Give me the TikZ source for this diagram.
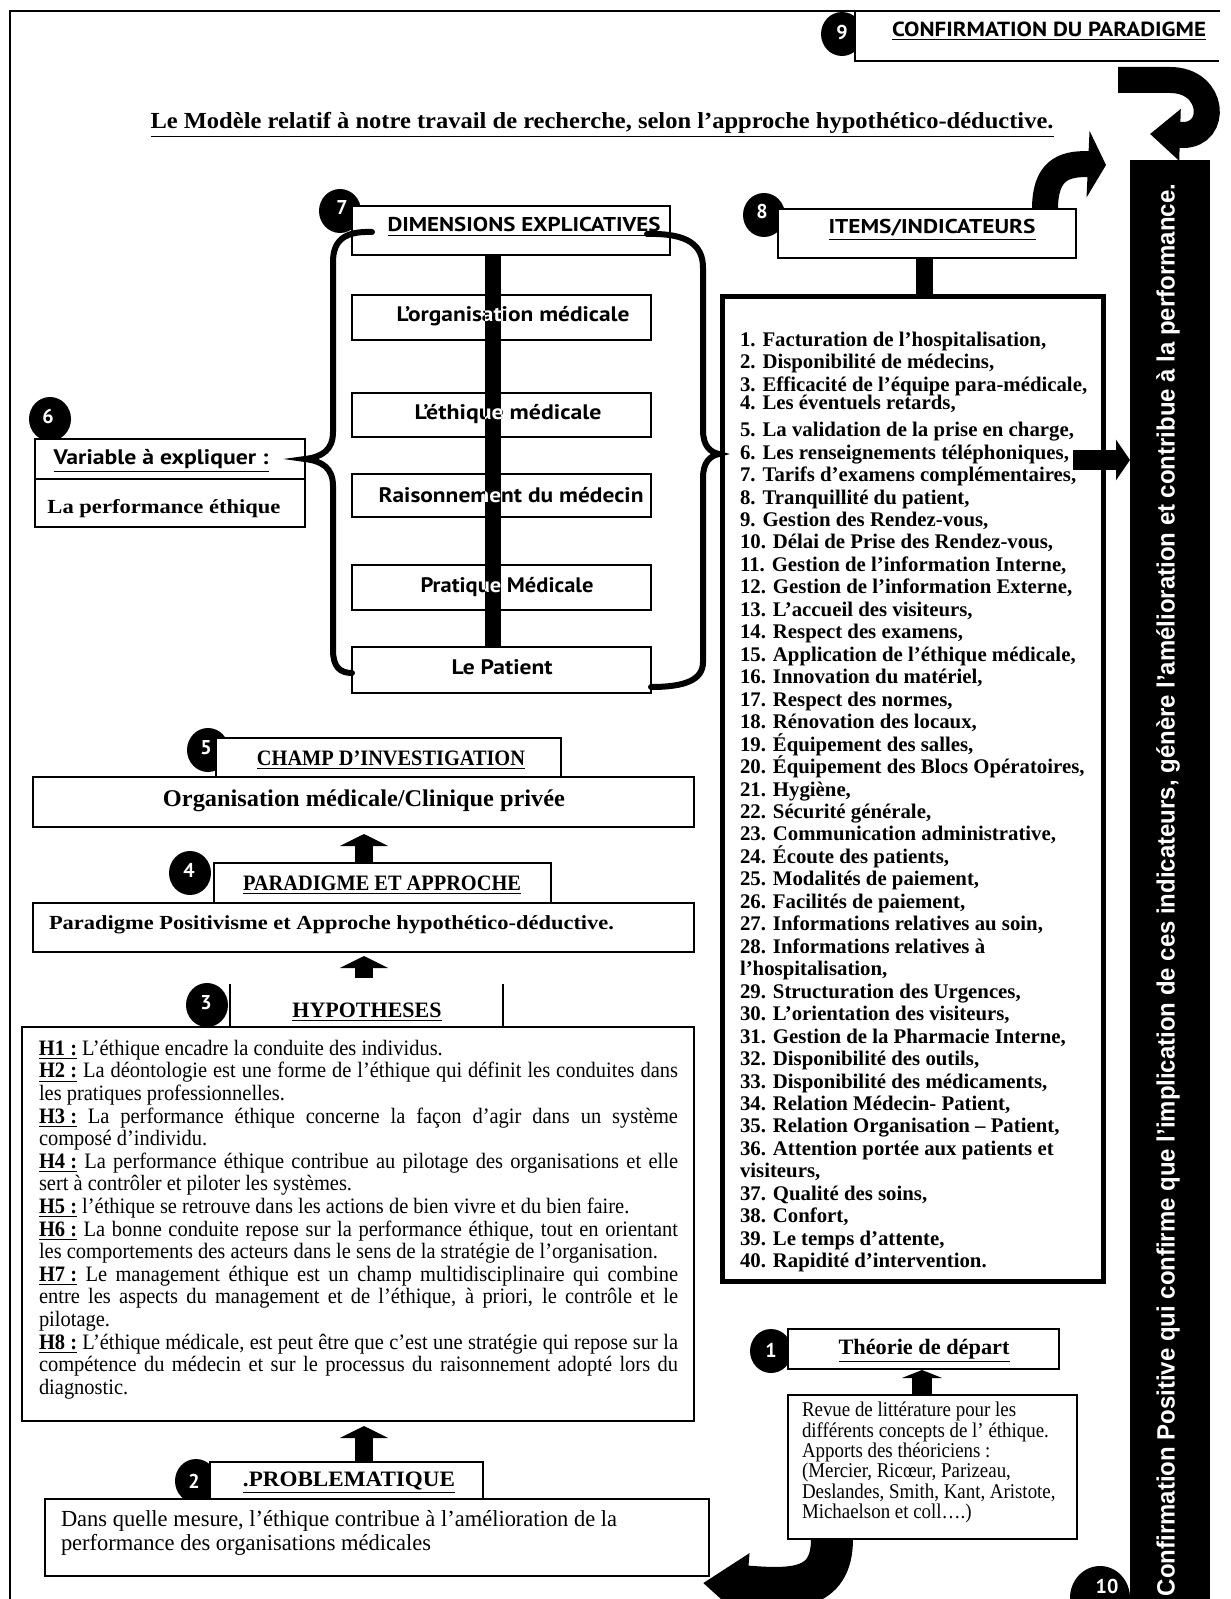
\documentclass[tikz,border=0pt]{standalone}
\usepackage{fontspec}
\usepackage{graphicx}
\setmainfont{Liberation Serif}
\newfontfamily\sansf{PT Sans}
\newfontfamily\arialf{Liberation Sans}
\newfontfamily\condserif[FakeStretch=0.9]{Liberation Serif}
\newfontfamily\hypf[FakeStretch=0.93]{Liberation Serif}
\usetikzlibrary{arrows.meta,shapes.geometric}
\newcommand\fitw[2]{\resizebox{#1pt}{\height}{#2}}
\newcommand\SBf[1]{\sansf\bfseries\fontsize{#1}{#1}\selectfont}
\newcommand\RBf[1]{\rmfamily\bfseries\fontsize{#1}{#1}\selectfont}
\newcommand\hl[1]{\underline{\textbf{#1}}}
\newcommand\jl[1]{\makebox[319.5pt][s]{#1}}
\newcommand\normsp{\spaceskip=0pt\xspaceskip=0pt\lineskiplimit=-100pt\relax}
\begin{document}
\begin{tikzpicture}[x=0.5pt,y=-0.5pt,
  box/.style={draw, line width=0.7pt, fill=white, inner sep=0pt, outer sep=0pt, rectangle},
  nobox/.style={inner sep=0pt, outer sep=0pt, rectangle},
  boxline/.style={line width=0.7pt},
  numc/.style={ellipse, fill=black, inner sep=0pt, minimum width=21pt, minimum height=22pt},
  numt/.style={text=white, font=\SBf{10}, inner sep=0pt},
  lbl/.style={inner sep=0pt, outer sep=0pt},
  blockarrow/.style={line width=9pt, -{Triangle[length=6pt,width=24pt]}},
  bracestyle/.style={line width=3pt, line cap=round}]
\useasboundingbox (0,0) rectangle (1230,1599);
\clip (0,0) rectangle (1230,1599);
% frame
\coordinate (f1) at (10,1599); \coordinate (f2) at (10,11); \coordinate (f3) at (1220,11);
\draw[line width=0.8pt] (f1) -- (f2) -- (f3);
% circles
\node[numc] (c9) at (842,34) {};
\node[numc] (c8) at (764,215) {};
\node[numc] (c7) at (340,211) {};
\node[numc] (c6) at (50,419) {};
\node[numc] (c5) at (208,750) {};
\node[numc] (c4) at (190,873) {};
\node[numc] (c3) at (207,1005) {};
\node[numc] (c2) at (196,1481) {};
\node[numc] (c1) at (771,1351) {};
\node[numc, minimum width=30pt, minimum height=32pt] (c10) at (1100,1598) {};
% boxes
\node[nobox, fill=white, minimum width=182pt, minimum height=25pt] (b9) at (1037,36) {};
\draw[boxline] (b9.north east) -- (b9.north west) -- (b9.south west) -- (b9.south east);
\node[box, minimum width=159pt, minimum height=24.5pt] (b7) at (511,230.5) {};
\node[box, minimum width=149pt, minimum height=24.5pt] (b8) at (927,233.5) {};
\node[box, minimum width=149.5pt, minimum height=22.5pt] (org) at (501.5,317.5) {};
\node[box, minimum width=149.5pt, minimum height=22pt] (eth) at (501.5,415) {};
\node[box, minimum width=149.5pt, minimum height=21.5pt] (rai) at (501.5,495.5) {};
\node[box, minimum width=149.5pt, minimum height=22.5pt] (pra) at (501.5,587.5) {};
\node[box, minimum width=149.5pt, minimum height=23pt] (pat) at (501.5,670) {};
\node[box, minimum width=135pt, minimum height=44pt] (var) at (170,483) {};
\coordinate (vd) at (0,479);
\draw[boxline] (var.west |- vd) -- (var.east |- vd);
\node[box, minimum width=172.5pt, minimum height=19.5pt] (b5) at (388.5,757.5) {};
\node[box, minimum width=330.5pt, minimum height=25pt] (big5) at (363.5,802) {};
\node[box, minimum width=168.5pt, minimum height=20pt] (b4) at (382.5,883) {};
\node[box, minimum width=330.5pt, minimum height=24.5pt] (big4) at (363.5,927.5) {};
\node[nobox, minimum width=136.5pt, minimum height=21.5pt] (b3) at (366.5,1005.5) {};
\draw[boxline] (b3.north west) -- (b3.south west);
\draw[boxline] (b3.north east) -- (b3.south east);
\node[box, minimum width=336pt, minimum height=197pt] (hyp) at (358,1224) {};
\node[box, minimum width=136.5pt, minimum height=18.5pt] (b2) at (346.5,1480.5) {};
\node[box, minimum width=332pt, minimum height=38.5pt] (prob) at (377,1537.5) {};
\node[box, minimum width=135.5pt, minimum height=20pt] (b1) at (923.5,1349) {};
\node[box, minimum width=144.5pt, minimum height=72pt] (theory) at (932.5,1467) {};
\node[box, line width=2.5pt, minimum width=190.5pt, minimum height=492pt] (items) at (912.5,789) {};
% numbers
\node[numt] (n9) at (842,33) {9};
\node[numt] (n8) at (762,212) {8};
\node[numt] (n7) at (342,208) {7};
\node[numt] (n6) at (48,416) {6};
\node[numt] (n5) at (206,748) {5};
\node[numt] (n4) at (189,870) {4};
\node[numt] (n3) at (206,1003) {3};
\node[numt] (n2) at (194,1481) {2};
\node[numt] (n1) at (771,1350) {1};
% texts
\node[lbl, font=\SBf{10.2}] (t9) at (1049,31) {\fitw{157}{\underline{CONFIRMATION DU PARADIGME}}};
\node[lbl, font=\RBf{11.5}] (title) at (602,125) {\fitw{451.5}{\underline{Le Modèle relatif à notre travail de recherche, selon l’approche hypothético-déductive.}}};
\node[lbl, font=\SBf{10}] (t7) at (524,227) {\fitw{136.5}{\underline{DIMENSIONS EXPLICATIVES}}};
\node[lbl, font=\SBf{10}] (t8) at (932,230) {\fitw{103.5}{\underline{ITEMS/INDICATEURS}}};
\node[lbl, font=\SBf{10.5}] (torg) at (513,316) {\fitw{116.5}{L’organisation médicale}};
\node[lbl, font=\SBf{10.5}] (teth) at (508,414) {\fitw{93.5}{L’éthique médicale}};
\node[lbl, font=\SBf{10.5}] (trai) at (511,495) {\fitw{132.5}{Raisonnement du médecin}};
\node[lbl, font=\SBf{10.5}] (tpra) at (507,587) {\fitw{86.5}{Pratique Médicale}};
\node[lbl, font=\SBf{10.5}] (tpat) at (502,667) {\fitw{50.5}{Le Patient}};
\node[lbl, font=\SBf{10.5}] (tvar) at (161,461) {\fitw{107.5}{\underline{Variable à expliquer :}}};
\node[lbl, font=\RBf{10}] (tperf) at (164,509) {\fitw{116.5}{La performance éthique}};
\node[lbl, font=\RBf{11}] (t5) at (391,760) {\fitw{134}{\underline{CHAMP D’INVESTIGATION}}};
\node[lbl, font=\RBf{12}] (tbig5) at (364,801) {\fitw{201}{Organisation médicale/Clinique privée}};
\node[lbl, font=\RBf{11}] (t4) at (382,885) {\fitw{139}{\underline{PARADIGME ET APPROCHE}}};
\node[lbl, font=\RBf{10}, anchor=west] (tbig4) at (49,925) {\fitw{282.5}{Paradigme Positivisme et Approche hypothético-déductive.}};
\node[lbl, font=\RBf{11}] (t3) at (367,1012) {\fitw{74.5}{\underline{HYPOTHESES}}};
\node[lbl, font=\RBf{11}] (t2) at (349,1483) {\fitw{106}{\underline{.PROBLEMATIQUE}}};
\node[lbl, font=\RBf{11}] (t1) at (924,1351) {\fitw{85.5}{\underline{Théorie de départ}}};
\node[lbl, font=\condserif\fontsize{11.5}{11.5}\selectfont, anchor=west] (tprob1) at (61,1521) {\fitw{278}{Dans quelle mesure, l’éthique contribue à l’amélioration de la}};
\node[lbl, font=\condserif\fontsize{11.5}{11.5}\selectfont, anchor=west] (tprob2) at (61,1545) {\fitw{185}{performance des organisations médicales}};
% items
\node[lbl, anchor=north west, align=left, font=\rmfamily\bfseries\fontsize{10.4}{11.23}\selectfont] (itemtext) at (740,332) {\normsp
1. Facturation de l'hospitalisation,\\
2. Disponibilité de médecins,\\
3. Efficacité de l'équipe para-médicale,\\[-2pt]
4. Les éventuels retards,\\[2.2pt]
5. La validation de la prise en charge,\\
6. Les renseignements téléphoniques,\\
7. Tarifs d'examens complémentaires,\\
8. Tranquillité du patient,\\
9. Gestion des Rendez-vous,\\
10. Délai de Prise des Rendez-vous,\\
11. Gestion de l'information Interne,\\
12. Gestion de l'information Externe,\\
13. L’accueil des visiteurs,\\
14. Respect des examens,\\
15. Application de l'éthique médicale,\\
16. Innovation du matériel,\\
17. Respect des normes,\\
18. Rénovation des locaux,\\
19. Équipement des salles,\\
20. Équipement des Blocs Opératoires,\\
21. Hygiène,\\
22. Sécurité générale,\\
23. Communication administrative,\\
24. Écoute des patients,\\
25. Modalités de paiement,\\
26. Facilités de paiement,\\
27. Informations relatives au soin,\\
28. Informations relatives à\\
l’hospitalisation,\\
29. Structuration des Urgences,\\
30. L'orientation des visiteurs,\\
31. Gestion de la Pharmacie Interne,\\
32. Disponibilité des outils,\\
33. Disponibilité des médicaments,\\
34. Relation Médecin- Patient,\\
35. Relation Organisation – Patient,\\
36. Attention portée aux patients et\\
visiteurs,\\
37. Qualité des soins,\\
38. Confort,\\
39. Le temps d'attente,\\
40. Rapidité d'intervention.};
% hypotheses
\node[lbl, anchor=north west, align=left, text width=319.5pt, font=\hypf\fontsize{11}{11.3}\selectfont] (hyptext) at (39,1040) {\normsp
\hl{H1 :} L’éthique encadre la conduite des individus.\\
\jl{\hl{H2 :} La déontologie est une forme de l’éthique qui définit les conduites dans}\\
les pratiques professionnelles.\\
\jl{\hl{H3 :} La performance éthique concerne la façon d’agir dans un système}\\
composé d’individu.\\
\jl{\hl{H4 :} La performance éthique contribue au pilotage des organisations et elle}\\
sert à contrôler et piloter les systèmes.\\
\hl{H5 :} l’éthique se retrouve dans les actions de bien vivre et du bien faire.\\
\jl{\hl{H6 :} La bonne conduite repose sur la performance éthique, tout en orientant}\\
les comportements des acteurs dans le sens de la stratégie de l’organisation.\\
\jl{\hl{H7 :} Le management éthique est un champ multidisciplinaire qui combine}\\
\jl{entre les aspects du management et de l’éthique, à priori, le contrôle et le}\\
pilotage.\\
\jl{\hl{H8 :} L’éthique médicale, est peut être que c’est une stratégie qui repose sur la}\\
\jl{compétence du médecin et sur le processus du raisonnement adopté lors du}\\
diagnostic.};
% theory text
\node[lbl, anchor=north west, align=left, font=\condserif\fontsize{10.5}{10.2}\selectfont] (thtext) at (802,1402) {\normsp
Revue de littérature pour les\\
différents concepts de l’ éthique.\\
Apports des théoriciens :\\
(Mercier, Ricœur, Parizeau,\\
Deslandes, Smith, Kant, Aristote,\\
Michaelson et coll….)};
% braces
\draw[bracestyle] (372,232) .. controls (345,231) and (333,240) .. (333,262) -- (333,432) .. controls (333,450) and (322,457) .. (305,459) .. controls (322,461) and (333,468) .. (333,486) -- (333,650) .. controls (333,667) and (340,673) .. (352,673);
\draw[bracestyle] (647,234) .. controls (688,233) and (703,245) .. (703,268) -- (703,430) .. controls (703,446) and (710,452) .. (719,454) .. controls (710,456) and (703,462) .. (703,478) -- (703,662) .. controls (703,680) and (685,687) .. (651,687);
% vertical bar through dimensions
\coordinate (vb) at (493,0);
\draw[line width=8pt] (b7.south -| vb) -- (pat.north -| vb);
\begin{scope}
\clip (485,255) rectangle (501,647);
\node[lbl, text=white, font=\SBf{10.5}] (torgw) at (513,316) {\fitw{116.5}{L’organisation médicale}};
\node[lbl, text=white, font=\SBf{10.5}] (tethw) at (508,414) {\fitw{93.5}{L’éthique médicale}};
\node[lbl, text=white, font=\SBf{10.5}] (traiw) at (511,495) {\fitw{132.5}{Raisonnement du médecin}};
\node[lbl, text=white, font=\SBf{10.5}] (tpraw) at (507,587) {\fitw{86.5}{Pratique Médicale}};
\end{scope}
% items connector
\coordinate (ic) at (924,0);
\draw[line width=8.5pt] (b8.south -| ic) -- (items.north -| ic);
% block arrows
\coordinate (ax) at (364,0);
\draw[blockarrow, shorten >=3.5pt] (b4.north -| ax) -- (big5.south -| ax);
\draw[blockarrow, shorten >=2pt, shorten <=3pt] (b3.north -| ax) -- (big4.south -| ax);
\draw[blockarrow, shorten >=2.5pt] (b2.north -| ax) -- (hyp.south -| ax);
\coordinate (tx) at (922,0);
\draw[line width=10pt, -{Triangle[length=4pt,width=20pt]}, shorten >=0.5pt] (theory.north -| tx) -- (b1.south -| tx);
% black bar 10
\node[nobox, fill=black, minimum width=40pt, minimum height=719.5pt] (bar) at (1170,879.5) {};
\node[lbl, rotate=90, text=white, font=\arialf\bfseries\fontsize{12.5}{12.5}\selectfont] (bartext) at (1168,890) {\fitw{706}{Confirmation Positive qui confirme que l’implication de ces indicateurs, génère l’amélioration et contribue à la performance.}};
\node[numt] (n10) at (1107,1586) {10};
% arrow items -> bar
\coordinate (ra) at (0,460);
\draw[line width=10pt, -{Triangle[length=7pt,width=20pt]}] ([xshift=-15pt]items.east |- ra) -- (bar.west |- ra);
% curved arrows
\draw[line width=13pt, -{Triangle[length=15pt,width=25pt]}] (1118,80) -- (1170,80) .. controls (1215,80) and (1218,135) .. (1183,135) -- (1150,134);
\coordinate (ca) at (1045,0);
\draw[line width=13pt, -{Triangle[length=9pt,width=33pt]}] (b8.north -| ca) .. controls (1045,172) and (1062,163) .. (1106,165);
\coordinate (cb) at (832,0);
\draw[line width=21pt, -{Triangle[length=22pt,width=32pt]}] (theory.south -| cb) .. controls (832,1592) and (790,1590) .. (703,1583);
\end{tikzpicture}
\end{document}
